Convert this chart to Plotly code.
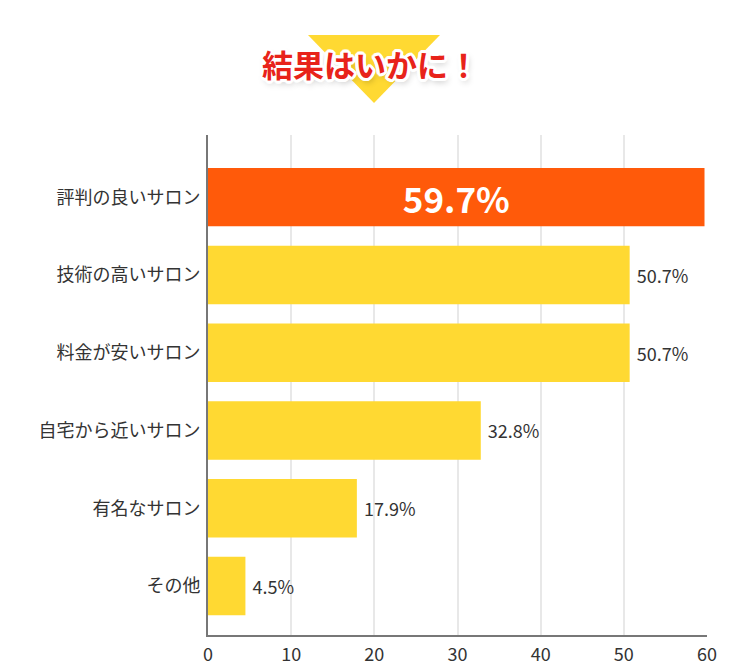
import plotly.graph_objects as go

categories = ["評判の良いサロン", "技術の高いサロン", "料金が安いサロン", "自宅から近いサロン", "有名なサロン", "その他"]
values = [59.7, 50.7, 50.7, 32.8, 17.9, 4.5]
labels = ["59.7%", "50.7%", "50.7%", "32.8%", "17.9%", "4.5%"]
tick_vals = [0, 10, 20, 30, 40, 50, 60]
title_text = "結果はいかに！"

ORANGE = "#FF5A0A"
YELLOW = "#FFD932"
colors = [ORANGE] + [YELLOW] * (len(values) - 1)
positions = ["inside"] + ["outside"] * (len(values) - 1)
shown = [labels[0]] + ["\u00a0" + t for t in labels[1:]]

FONT = "Noto Sans CJK JP"

fig = go.Figure()
fig.add_trace(go.Bar(
    y=categories, x=values, orientation="h",
    marker=dict(color=colors, line=dict(width=0)),
    text=shown, textposition=positions,
    insidetextanchor="middle",
    insidetextfont=dict(family=FONT, size=35, color="white", weight="bold"),
    outsidetextfont=dict(family=FONT, size=18, color="#333333"),
    cliponaxis=False,
    hoverinfo="skip",
))

outline = ", ".join([f"{dx}px {dy}px 0 white" for dx, dy in
                     [(3, 0), (-3, 0), (0, 3), (0, -3), (2, 2), (-2, 2), (2, -2), (-2, -2),
                      (3, 1), (-3, 1), (3, -1), (-3, -1), (1, 3), (-1, 3), (1, -3), (-1, -3)]])
outline += ", 2px 4px 6px rgba(0,0,0,0.25)"

fig.add_shape(type="path", xref="paper", yref="paper",
              path="M 0.2004 1.2 L 0.4649 1.2 L 0.3327 1.064 Z",
              fillcolor="#FFD932", line=dict(width=0), layer="below")

fig.add_annotation(text=title_text, xref="paper", yref="paper",
                   x=0.325, y=1.144, xanchor="center", yanchor="middle",
                   showarrow=False,
                   font=dict(family=FONT, size=31, color="#E8231A", weight="bold", shadow=outline))

fig.update_layout(
    width=742, height=658,
    margin=dict(l=200, r=43, t=127, b=31),
    paper_bgcolor="white", plot_bgcolor="white",
    showlegend=False,
    bargap=0.25,
    font=dict(family=FONT, color="#333333"),
    xaxis=dict(range=[0, 60], tickvals=tick_vals, showgrid=True, gridcolor="#E8E8E8", gridwidth=2,
               zeroline=False, showline=True, linecolor="#777777", linewidth=2, automargin=False,
               ticks="", ticklabelstandoff=2, tickfont=dict(size=18, color="#333333"), fixedrange=True),
    yaxis=dict(range=[5.63, -0.8], showgrid=False, zeroline=False, showline=True, automargin=False,
               linecolor="#777777", linewidth=2, ticks="", ticklabelstandoff=2,
               tickfont=dict(size=18, color="#333333"), fixedrange=True),
)

fig.write_html("out.html")
